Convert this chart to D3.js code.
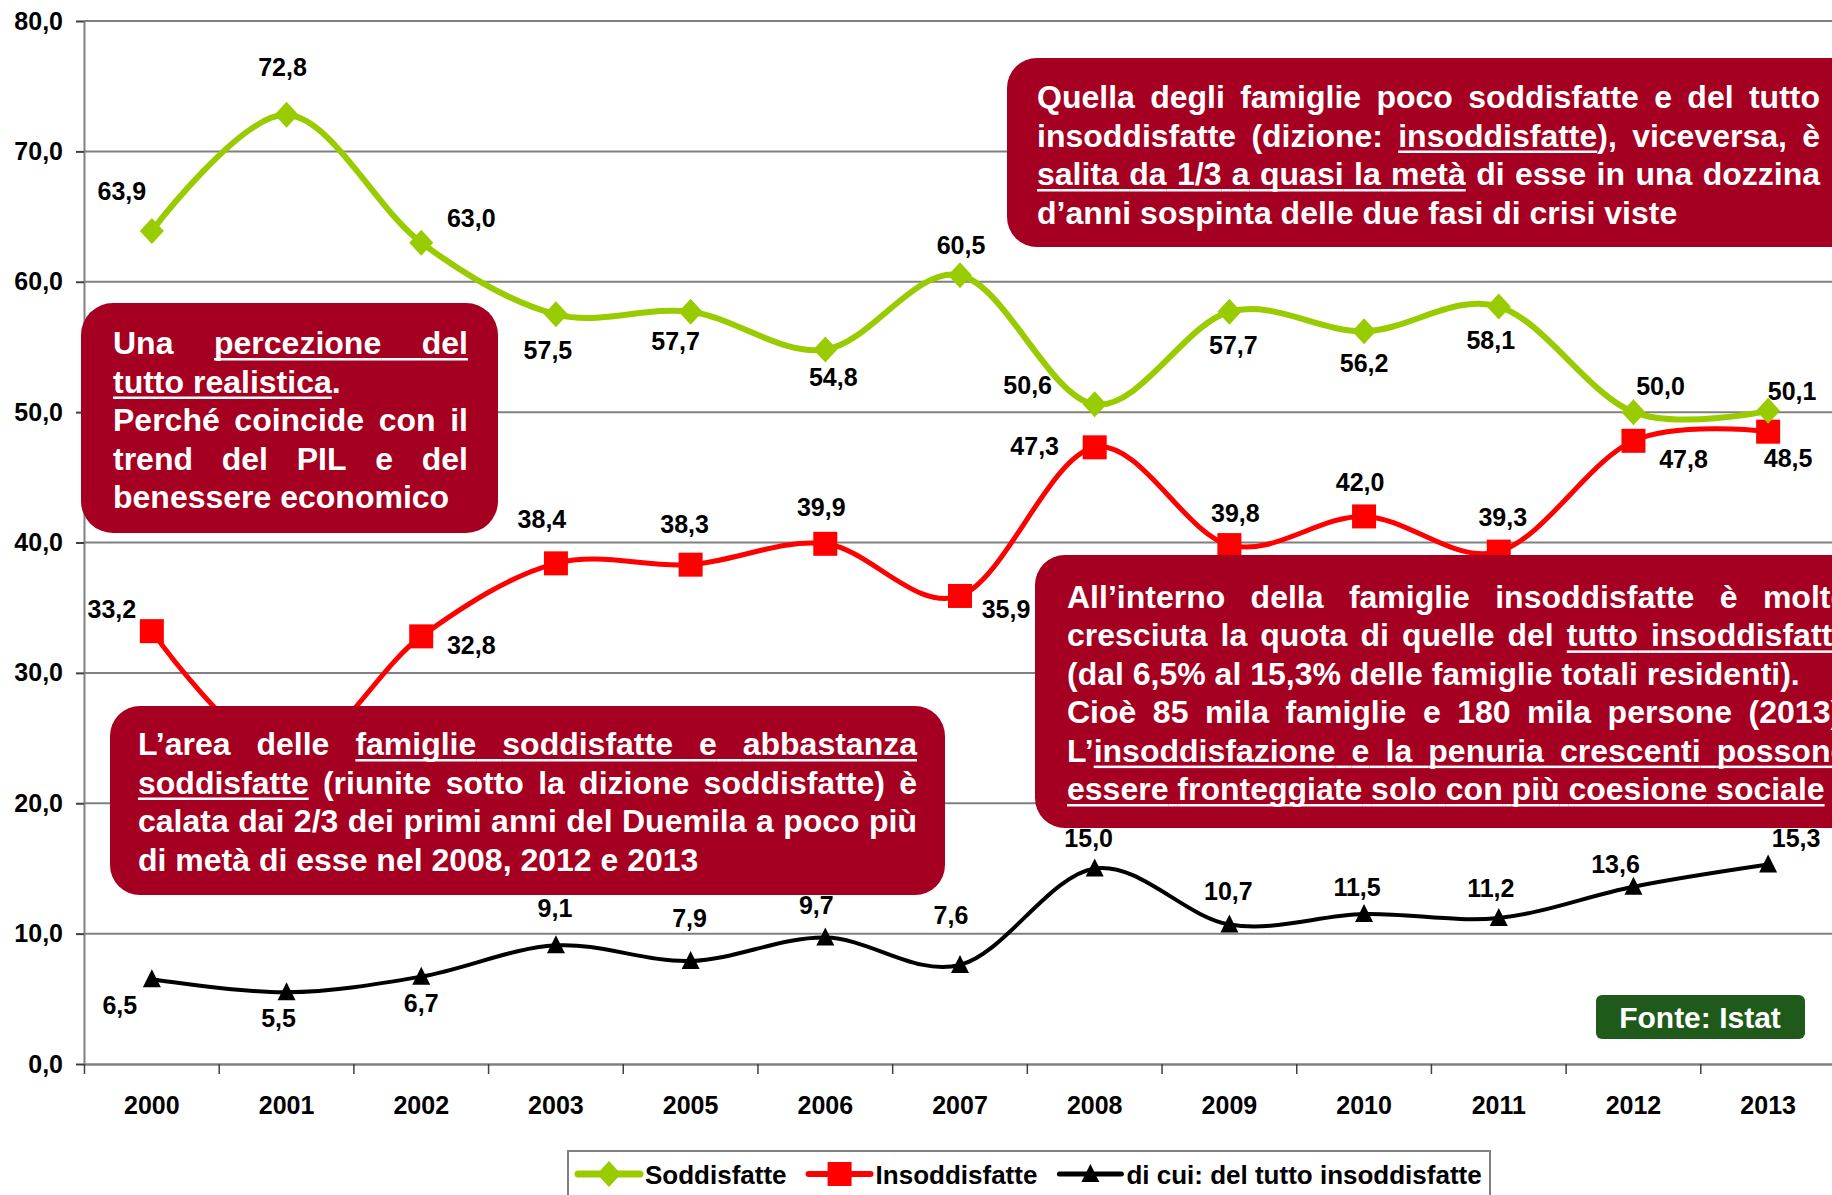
<!DOCTYPE html>
<html>
<head>
<meta charset="utf-8">
<script src="https://cdn.jsdelivr.net/npm/d3@7"></script>
<style>
  body { margin: 0; background: #fff; }
  svg text { font-family: "Liberation Sans", Arial, sans-serif; font-weight: bold; }
</style>
</head>
<body>
<script>
// Data
var years = ["2000", "2001", "2002", "2003", "2005", "2006", "2007", "2008", "2009", "2010", "2011", "2012", "2013"];
var soddisfatte = [63.9, 72.8, 63.0, 57.5, 57.7, 54.8, 60.5, 50.6, 57.7, 56.2, 58.1, 50.0, 50.1];
var insoddisfatte = [33.2, 23.5, 32.8, 38.4, 38.3, 39.9, 35.9, 47.3, 39.8, 42.0, 39.3, 47.8, 48.5];
var delTutto = [6.5, 5.5, 6.7, 9.1, 7.9, 9.7, 7.6, 15.0, 10.7, 11.5, 11.2, 13.6, 15.3];
var yTicks = [0, 10, 20, 30, 40, 50, 60, 70, 80];
var seriesNames = ["Soddisfatte", "Insoddisfatte", "di cui: del tutto insoddisfatte"];

// label placement (px offset from the point), null = hidden under a box
var offSodd = [[-30, -40], [-4, -48], [50, -25], [-8, 36], [-15, 29], [8, 27], [1, -30], [-67, -19], [4, 33], [0, 32], [-8, 33], [27, -26], [24, -20]];
var offInsod = [[-40, -22], null, [50, 9], [-14, -44], [-6, -41], [-4, -37], [46, 13], [-60, -1], [6, -32], [-4, -34], [4, -35], [50, 18], [20, 26]];
var offTutto = [[-32, 26], [-8, 26], [0, 26], [-1, -37], [-1, -43], [-9, -33], [-9, -50], [-6, -30], [-1, -33], [-7, -27], [-8, -30], [-18, -23], [28, -27]];

var width = 1832, height = 1195;
var fmt = function (d) { return d.toFixed(1).replace(".", ","); };

var svg = d3.select("body").append("svg")
    .attr("width", width)
    .attr("height", height);

var x = d3.scaleBand().domain(years).range([84.5, 1835.5]);
var y = d3.scaleLinear().domain([0, 80]).range([1064, 21]);
var cx = function (i) { return x(years[i]) + x.bandwidth() / 2; };

// Gridlines
svg.append("g").selectAll("line")
    .data(yTicks.filter(function (d) { return d > 0; }))
    .enter().append("line")
    .attr("x1", 84).attr("x2", width)
    .attr("y1", function (d) { return y(d); })
    .attr("y2", function (d) { return y(d); })
    .attr("stroke", "#808080")
    .attr("stroke-width", 2);

// Y axis
var yAxis = svg.append("g")
    .attr("transform", "translate(84,0)")
    .call(d3.axisLeft(y).tickValues(yTicks).tickSize(8).tickSizeOuter(0).tickPadding(13).tickFormat(fmt));
yAxis.select(".domain").attr("stroke", "#808080").attr("stroke-width", 2);
yAxis.selectAll(".tick line").attr("stroke", "#404040").attr("stroke-width", 2);
yAxis.selectAll(".tick text").attr("font-size", 25).attr("fill", "#000").attr("font-family", null);

// X axis
var xAxis = svg.append("g")
    .attr("transform", "translate(0,1064)")
    .call(d3.axisBottom(x).tickSize(0).tickSizeOuter(0));
xAxis.select(".domain").attr("stroke", "#808080").attr("stroke-width", 2.5);
xAxis.selectAll(".tick text").attr("font-size", 25).attr("fill", "#000").attr("font-family", null)
    .attr("y", 41).attr("dy", "0.35em");
xAxis.selectAll(".bound")
    .data(years.map(function (d) { return x(d); }))
    .enter().append("line")
    .attr("class", "bound")
    .attr("x1", function (d) { return d; }).attr("x2", function (d) { return d; })
    .attr("y1", 0).attr("y2", 10)
    .attr("stroke", "#404040").attr("stroke-width", 1.5);

// Lines
var line = d3.line()
    .x(function (d, i) { return cx(i); })
    .y(function (d) { return y(d); })
    .curve(d3.curveCardinal.tension(0));

var series = [
    { values: delTutto, color: "#000000", w: 4, marker: "tri", off: offTutto },
    { values: insoddisfatte, color: "#ff0000", w: 5, marker: "sq", off: offInsod },
    { values: soddisfatte, color: "#99cc00", w: 6, marker: "dia", off: offSodd }
];

function drawMarker(g, type, color) {
    if (type === "dia") {
        g.append("path").attr("d", "M0,-13L12,0L0,13L-12,0Z").attr("fill", color);
    } else if (type === "sq") {
        g.append("rect").attr("x", -12).attr("y", -12).attr("width", 24).attr("height", 24).attr("fill", color);
    } else {
        g.append("path").attr("d", "M0,-10L9,8L-9,8Z").attr("fill", color);
    }
}

series.forEach(function (s) {
    svg.append("path")
        .datum(s.values)
        .attr("d", line)
        .attr("fill", "none")
        .attr("stroke", s.color)
        .attr("stroke-width", s.w)
        .attr("stroke-linecap", "round");
});
series.forEach(function (s) {
    s.values.forEach(function (v, i) {
        var g = svg.append("g").attr("transform", "translate(" + cx(i) + "," + y(v) + ")");
        drawMarker(g, s.marker, s.color);
    });
});
series.forEach(function (s) {
    var pts = s.values.map(function (v, i) { return { v: v, i: i }; })
        .filter(function (p) { return s.off[p.i]; });
    svg.append("g").selectAll("text")
        .data(pts)
        .enter().append("text")
        .attr("x", function (p) { return cx(p.i) + s.off[p.i][0]; })
        .attr("y", function (p) { return y(p.v) + s.off[p.i][1]; })
        .attr("dy", "0.36em")
        .attr("text-anchor", "middle")
        .attr("font-size", 25)
        .text(function (p) { return fmt(p.v); });
});

// Annotation boxes
var measurer = svg.append("text").attr("font-size", 32).attr("visibility", "hidden");
function measure(t, size) {
    measurer.attr("font-size", size).text(t);
    return measurer.node().getComputedTextLength();
}

function parseLine(str) {
    var u = false;
    return str.split(" ").map(function (w) {
        var parts = [], cur = "";
        for (var ch of w) {
            if (ch === "[" || ch === "]") {
                if (cur) parts.push({ t: cur, u: u });
                cur = "";
                u = ch === "[";
            } else cur += ch;
        }
        if (cur) parts.push({ t: cur, u: u });
        return parts;
    });
}

function textBox(b) {
    var g = svg.append("g");
    g.append("rect")
        .attr("x", b.x).attr("y", b.y).attr("width", b.w).attr("height", b.h)
        .attr("rx", b.r).attr("ry", b.r)
        .attr("fill", "#a50021");
    var size = 32, space = 0.278 * size;
    b.lines.forEach(function (ln, li) {
        var base = b.base + li * b.lh;
        var words = parseLine(ln[0]);
        words.forEach(function (parts) {
            parts.forEach(function (p) { p.w = measure(p.t, size); });
        });
        var total = d3.sum(words, function (parts) { return d3.sum(parts, function (p) { return p.w; }); });
        var gap = ln[1] && words.length > 1 ? (b.right - b.left - total) / (words.length - 1) : space;
        var xp = b.left;
        words.forEach(function (parts, wi) {
            if (wi > 0) {
                var prev = words[wi - 1];
                if (prev[prev.length - 1].u && parts[0].u) {
                    g.append("rect").attr("x", xp - gap).attr("y", base + 4).attr("width", gap).attr("height", 2.5).attr("fill", "#fff");
                }
            }
            parts.forEach(function (p) {
                g.append("text").attr("x", xp).attr("y", base)
                    .attr("font-size", size).attr("fill", "#fff").text(p.t);
                if (p.u) {
                    g.append("rect").attr("x", xp).attr("y", base + 4).attr("width", p.w).attr("height", 2.5).attr("fill", "#fff");
                }
                xp += p.w;
            });
            xp += gap;
        });
    });
}

textBox({
    x: 1007, y: 58, w: 860, h: 189, r: 30, left: 1037, right: 1820, base: 108, lh: 38.5,
    lines: [
        ["Quella degli famiglie poco soddisfatte e del tutto", true],
        ["insoddisfatte (dizione: [insoddisfatte]), viceversa, è", true],
        ["[salita da 1/3 a quasi la metà] di esse in una dozzina", true],
        ["d’anni sospinta delle due fasi di crisi viste", false]
    ]
});
textBox({
    x: 81, y: 303, w: 417, h: 230, r: 32, left: 113, right: 468, base: 354, lh: 38.5,
    lines: [
        ["Una [percezione del]", true],
        ["[tutto realistica].", false],
        ["Perché coincide con il", true],
        ["trend del PIL e del", true],
        ["benessere economico", false]
    ]
});
textBox({
    x: 110, y: 706, w: 835, h: 189, r: 30, left: 138, right: 917, base: 755, lh: 38.5,
    lines: [
        ["L’area delle [famiglie soddisfatte e abbastanza]", true],
        ["[soddisfatte] (riunite sotto la dizione soddisfatte) è", true],
        ["calata dai 2/3 dei primi anni del Duemila a poco più", true],
        ["di metà di esse nel 2008, 2012 e 2013", false]
    ]
});
textBox({
    x: 1035, y: 555, w: 860, h: 273, r: 30, left: 1067, right: 1850, base: 608, lh: 38.4,
    lines: [
        ["All’interno della famiglie insoddisfatte è molto", true],
        ["cresciuta la quota di quelle del [tutto insoddisfatte]", true],
        ["(dal 6,5% al 15,3% delle famiglie totali residenti).", false],
        ["Cioè 85 mila famiglie e 180 mila persone (2013).", true],
        ["L’[insoddisfazione e la penuria crescenti possono]", true],
        ["[essere fronteggiate solo con più coesione sociale]", false]
    ]
});

// Fonte box
svg.append("rect")
    .attr("x", 1596).attr("y", 995).attr("width", 209).attr("height", 44)
    .attr("rx", 6).attr("ry", 6)
    .attr("fill", "#1f5a1a");
svg.append("text")
    .attr("x", 1700).attr("y", 1017).attr("dy", "0.36em")
    .attr("text-anchor", "middle").attr("font-size", 30).attr("fill", "#fff")
    .text("Fonte: Istat");

// Legend
var lg = svg.append("g");
lg.append("rect")
    .attr("x", 568).attr("y", 1151).attr("width", 922).attr("height", 70)
    .attr("fill", "#fff").attr("stroke", "#808080").attr("stroke-width", 2);
var lx = 578;
[series[2], series[1], series[0]].forEach(function (s, i) {
    lg.append("line")
        .attr("x1", lx).attr("x2", lx + 62).attr("y1", 1174).attr("y2", 1174)
        .attr("stroke", s.color).attr("stroke-width", s.w + 1).attr("stroke-linecap", "round");
    var m = lg.append("g").attr("transform", "translate(" + (lx + 31) + ",1174)");
    drawMarker(m, s.marker, s.color);
    lg.append("text")
        .attr("x", lx + 67).attr("y", 1175).attr("dy", "0.36em")
        .attr("font-size", 26)
        .text(seriesNames[i]);
    lx += 67 + measure(seriesNames[i], 26) + 22;
});
</script>
</body>
</html>
